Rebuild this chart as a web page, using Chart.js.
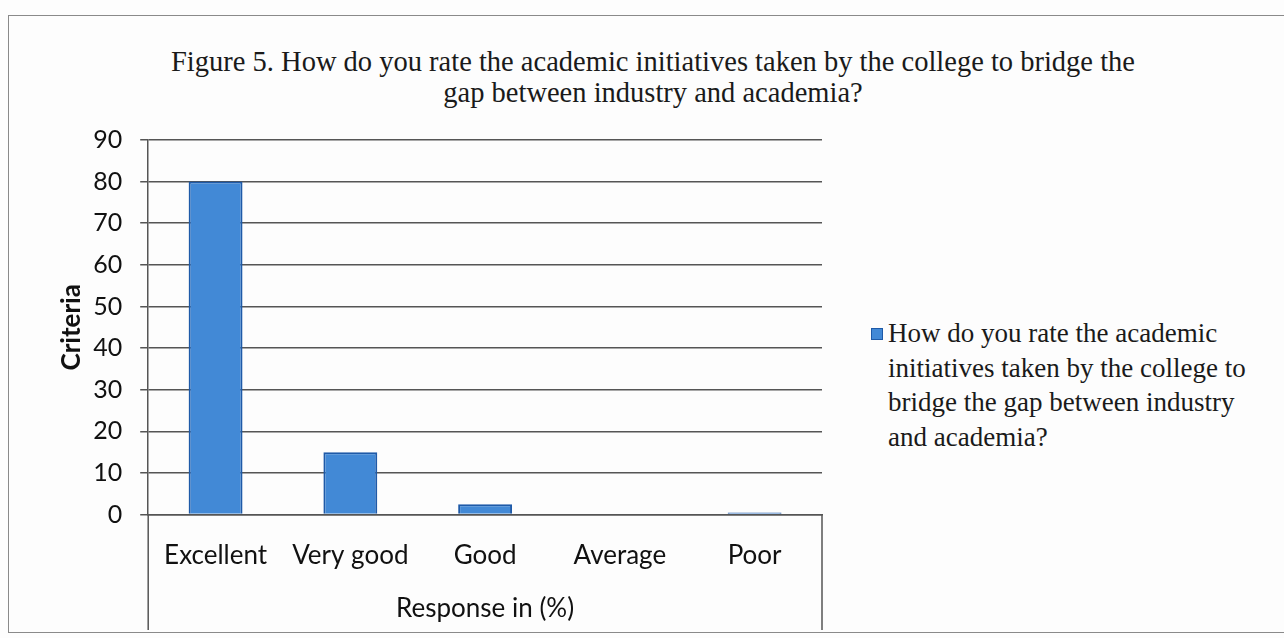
<!DOCTYPE html>
<html lang="en">
<head>
  <meta charset="UTF-8">
  <title>Figure 5</title>
  <script src="https://cdn.jsdelivr.net/npm/chart.js"></script>
  <style>
    html, body { margin: 0; padding: 0; background: #fff; }
    .page {
      position: relative;
      width: 1284px;
      height: 638px;
      overflow: hidden;
      background: #fdfdfd;
    }
    .frame {
      position: absolute;
      left: 8px; top: 15px;
      width: 1290px; height: 616px;
      border: 1.5px solid #8a8a8a;
      border-right: none;
    }
    .title {
      position: absolute;
      left: 0; width: 1306px;
      top: 46px;
      text-align: center;
      font-family: "Liberation Serif", "Times New Roman", serif;
      font-size: 28.5px;
      line-height: 31px;
      color: #1a1a1a;
    }
    .chart-box {
      position: absolute;
      left: 0; top: 0;
      width: 840px; height: 638px;
    }
    .legend {
      position: absolute;
      left: 866px; top: 316px;
      width: 385px;
      font-family: "Liberation Serif", "Times New Roman", serif;
      font-size: 27px;
      line-height: 34.5px;
      color: #1a1a1a;
      padding-left: 22px;
    }
    .legend .swatch {
      position: absolute;
      left: 5px; top: 12px;
      width: 10px; height: 10px;
      background: #4289d6;
      border: 1px solid #1e5aa8;
    }
  </style>
</head>
<body>
  <div class="page">
    <div class="frame"></div>
    <div class="title">Figure 5. How do you rate the academic initiatives taken by the college to bridge the<br>gap between industry and academia?</div>
    <div class="chart-box">
      <canvas id="chart" width="840" height="638"></canvas>
    </div>
    <div class="legend"><span class="swatch"></span><span id="legendText"></span></div>
  </div>

  <script>
    // 数据
    const categories = ['Excellent', 'Very good', 'Good', 'Average', 'Poor'];
    const responses = [80, 15, 2.5, 0, 0.5];
    const seriesName = 'How do you rate the academic initiatives taken by the college to bridge the gap between industry and academia?';
    const yTicks = [0, 10, 20, 30, 40, 50, 60, 70, 80, 90];

    document.getElementById('legendText').textContent = seriesName;

    const fontFamily = 'Lato, "Open Sans", sans-serif';

    // 绘图区两侧向下延伸的竖线
    const sideLines = {
      id: 'sideLines',
      afterDraw(chart) {
        const { ctx, chartArea } = chart;
        ctx.save();
        ctx.strokeStyle = '#555';
        ctx.lineWidth = 1.5;
        ctx.beginPath();
        ctx.moveTo(chartArea.left, chartArea.bottom);
        ctx.lineTo(chartArea.left, chart.height - 8);
        ctx.moveTo(chartArea.right, chartArea.bottom);
        ctx.lineTo(chartArea.right, chart.height - 8);
        ctx.stroke();
        ctx.restore();
      }
    };

    new Chart(document.getElementById('chart').getContext('2d'), {
      type: 'bar',
      data: {
        labels: categories,
        datasets: [{
          label: seriesName,
          data: responses,
          backgroundColor: '#4289d6',
          borderColor: '#1e5aa8',
          borderWidth: 2,
          barPercentage: 0.4,
          categoryPercentage: 1.0
        }]
      },
      options: {
        responsive: false,
        animation: false,
        layout: { padding: { top: 140, left: 56, right: 18, bottom: 14 } },
        plugins: {
          legend: { display: false },
          tooltip: { enabled: false }
        },
        scales: {
          x: {
            grid: { display: false },
            border: { color: '#555', width: 1.5 },
            ticks: { color: '#111', font: { family: fontFamily, size: 26 }, padding: 17 },
            title: { display: true, text: 'Response in (%)', color: '#111', font: { family: fontFamily, size: 26 }, padding: { top: 5, bottom: 0 } }
          },
          y: {
            min: 0,
            max: 90,
            afterBuildTicks(scale) { scale.ticks = yTicks.map(v => ({ value: v })); },
            grid: { color: '#555', lineWidth: 1.5, tickLength: 8 },
            border: { color: '#555', width: 1.5 },
            ticks: { color: '#111', font: { family: fontFamily, size: 25 }, padding: 18 },
            title: { display: true, text: 'Criteria', color: '#111', font: { family: fontFamily, size: 26, weight: 'bold' }, padding: { top: 0, bottom: -12 } }
          }
        }
      },
      plugins: [sideLines]
    });
  </script>
</body>
</html>
